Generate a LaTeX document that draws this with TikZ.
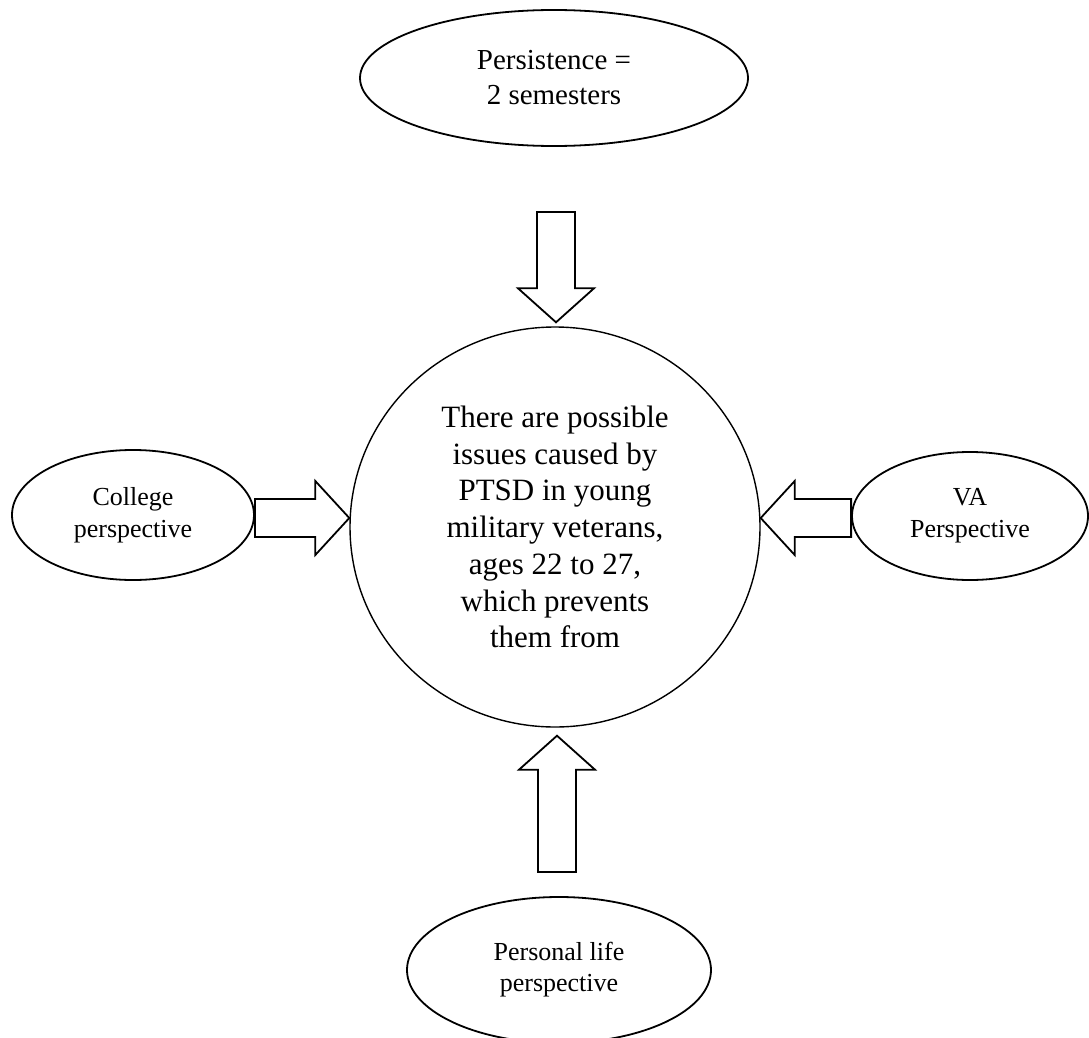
\documentclass[tikz,border=0pt]{standalone}
\usepackage{fontspec}
\setmainfont{Liberation Serif}
\usetikzlibrary{shapes.geometric,calc}
\begin{document}
\begin{tikzpicture}[x=1pt,y=-1pt,
  oval/.style={ellipse,draw,line width=1.8pt,inner sep=0pt,align=center},
  blk/.style={draw,line width=1.8pt,line join=miter}]
\useasboundingbox (0,0) rectangle (1089,1038);
\node[oval,minimum width=388pt,minimum height=136pt,font=\fontsize{29}{35}\selectfont] (top) at (554,78) {Persistence =\\2 semesters};
\node[oval,line width=1.4pt,minimum width=410pt,minimum height=400pt,font=\fontsize{31}{36.7}\selectfont] (c) at (555,527) {There are possible\\issues caused by\\PTSD in young\\military veterans,\\ages 22 to 27,\\which prevents\\them from};
\node[oval,minimum width=242pt,minimum height=130pt,font=\fontsize{26}{32}\selectfont] (L) at (133,515) {College\\perspective};
\node[oval,minimum width=236pt,minimum height=128pt,font=\fontsize{26}{32}\selectfont] (R) at (970,516) {VA\\Perspective};
\node[oval,minimum width=304pt,minimum height=146pt,font=\fontsize{26}{31}\selectfont] (B) at (559,970) {Personal life\\perspective};
% arrow end points
\coordinate (sT) at (556,212);
\coordinate (eT) at ($(c.north)+(1,-4)$);
\coordinate (sB) at (557,872);
\coordinate (eB) at ($(c.south)+(2,8)$);
\coordinate (sL) at ($(L.east)+(0,3)$);
\coordinate (eL) at ($(c.west)+(0,-9)$);
\coordinate (sR) at ($(R.west)+(0,2)$);
\coordinate (eR) at ($(c.east)+(0,-9)$);
% top arrow (down)
\draw[blk] ($(sT)+(-19,0)$) -- ($(eT)+(-19,-34)$) -- ($(eT)+(-38,-34)$) -- (eT) -- ($(eT)+(38,-34)$) -- ($(eT)+(19,-34)$) -- ($(sT)+(19,0)$) -- cycle;
% bottom arrow (up)
\draw[blk] ($(sB)+(-19,0)$) -- ($(eB)+(-19,34)$) -- ($(eB)+(-38,34)$) -- (eB) -- ($(eB)+(38,34)$) -- ($(eB)+(19,34)$) -- ($(sB)+(19,0)$) -- cycle;
% left arrow (right)
\draw[blk] ($(sL)+(0,-19)$) -- ($(eL)+(-34,-19)$) -- ($(eL)+(-34,-37)$) -- (eL) -- ($(eL)+(-34,37)$) -- ($(eL)+(-34,19)$) -- ($(sL)+(0,19)$) -- cycle;
% right arrow (left)
\draw[blk] ($(sR)+(0,-19)$) -- ($(eR)+(34,-19)$) -- ($(eR)+(34,-37)$) -- (eR) -- ($(eR)+(34,37)$) -- ($(eR)+(34,19)$) -- ($(sR)+(0,19)$) -- cycle;
\end{tikzpicture}
\end{document}
